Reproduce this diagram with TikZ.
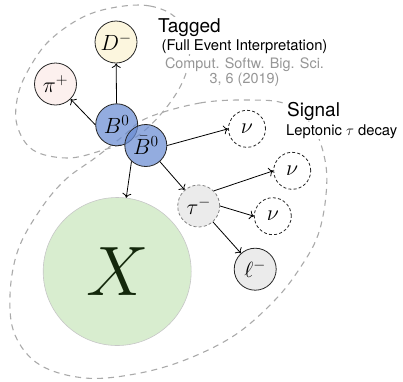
\RequirePackage{fix-cm}
\documentclass[tikz,border=0pt]{standalone}
\usepackage{fontspec}
\newfontfamily\headfont{TeX Gyre Heros}
\usetikzlibrary{arrows.meta}
\definecolor{bblue}{RGB}{105,140,210}
\definecolor{dyellow}{RGB}{252,246,222}
\definecolor{ppink}{RGB}{252,240,238}
\definecolor{xgreen}{RGB}{216,237,207}
\definecolor{xdark}{RGB}{20,40,12}
\definecolor{lgray}{RGB}{235,235,235}
\definecolor{regiongray}{RGB}{170,170,170}
\definecolor{refgray}{RGB}{150,150,150}
\tikzset{
  particle/.style={circle, draw=black!85, line width=0.8pt, minimum size=42pt, inner sep=0pt,
    font=\fontsize{22}{24}\selectfont},
  bmeson/.style={particle, fill=bblue, fill opacity=0.72, text opacity=1},
  neutrino/.style={particle, minimum size=37pt, dash pattern=on 3pt off 2.2pt},
  taunode/.style={particle, fill=lgray, draw=black!50, dash pattern=on 3pt off 2.2pt},
  region/.style={draw=regiongray, line width=1.1pt, dash pattern=on 6pt off 5pt},
  connector/.style={->, line width=0.8pt},
  headlabel/.style={font=\headfont\fontsize{19}{22}\selectfont, fill=white, inner sep=1pt},
  sublabel/.style={font=\headfont\fontsize{14.8}{17}\selectfont, fill=white, inner sep=1pt},
  reflabel/.style={font=\headfont\fontsize{14.4}{17}\selectfont, text=refgray, fill=white, inner sep=1pt},
}
\begin{document}
\begin{tikzpicture}[x=1pt, y=-1pt, >={To[length=4.5pt,width=9pt]}]
  \useasboundingbox (0,0) rectangle (403,381);

  % dashed regions
  \draw[region] plot[smooth cycle, tension=0.6] coordinates {(117,7) (150,6) (176,18) (189,45) (185,76)
    (166,108) (136,137) (100,151) (67,158) (33,150) (17,125) (18,95) (30,67) (50,40) (83,17)};
  \draw[region] plot[smooth cycle, tension=0.6] coordinates {(147,118) (200,103) (250,100) (286,104)
    (312,125) (325,160) (326,195) (318,235) (300,268) (275,300) (235,335) (185,360) (135,374)
    (85,378) (40,365) (15,335) (10,295) (18,250) (40,210) (65,180) (95,158) (122,137)};

  % particles
  \node[particle, fill=dyellow] (Dm) at (116,42) {$D^-$};
  \node[particle, fill=ppink] (pip) at (55.5,84) {$\pi^+$};
  \node[bmeson] (B) at (116.7,124.8) {$B^0$};
  \node[bmeson] (Bbar) at (145.8,145.5) {$\bar{B}^0$};
  \node[circle, draw=black!22, line width=0.6pt, fill=xgreen, minimum size=148pt, inner sep=0pt,
    text=xdark, font=\fontsize{70}{80}\selectfont] (X) at (117.2,271.5) {$X$};
  \node[taunode] (tau) at (198.7,206) {$\tau^-$};
  \node[neutrino] (nu1) at (247,128.8) {$\nu$};
  \node[neutrino] (nu2) at (292.2,170.8) {$\nu$};
  \node[neutrino] (nu3) at (272.8,216.2) {$\nu$};
  \node[particle, fill=lgray] (lep) at (255.2,269.2) {$\ell^-$};

  % decays
  \draw[connector] (B) -- (Dm);
  \draw[connector] (B.west) -- (pip.-45);
  \draw[connector] (Bbar.east) -- (nu1.west);
  \draw[connector] (Bbar.228) -- (X.83);
  \draw[connector] (Bbar) -- (tau);
  \draw[connector] (tau.45) -- (nu2.west);
  \draw[connector] (tau.east) -- (nu3.west);
  \draw[connector] (tau) -- (lep);

  % labels
  \node[headlabel, anchor=base west] (tagged) at (157,32) {Tagged};
  \node[sublabel, anchor=base] (fei) at (244.5,50) {(Full Event Interpretation)};
  \node[reflabel, anchor=base] (ref1) at (244.5,68) {Comput. Softw. Big. Sci.};
  \node[reflabel, anchor=base] (ref2) at (244.5,83.5) {3, 6 (2019)};
  \node[headlabel, anchor=base west] (signal) at (286,116) {Signal};
  \node[sublabel, anchor=base west] (leptonic) at (285,135) {Leptonic $\tau$ decay};
\end{tikzpicture}
\end{document}
